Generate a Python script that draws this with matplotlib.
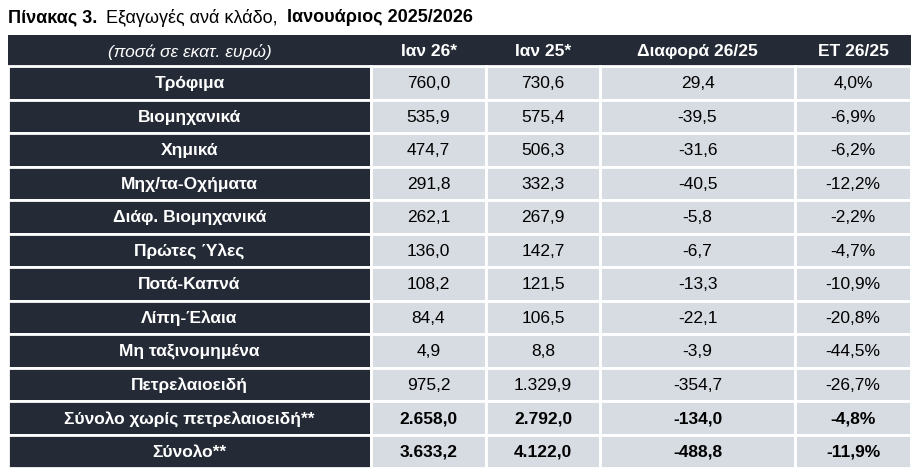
import matplotlib.pyplot as plt
from matplotlib.patches import Rectangle

categories = ["Τρόφιμα", "Βιομηχανικά", "Χημικά", "Μηχ/τα-Οχήματα", "Διάφ. Βιομηχανικά",
              "Πρώτες Ύλες", "Ποτά-Καπνά", "Λίπη-Έλαια", "Μη ταξινομημένα", "Πετρελαιοειδή",
              "Σύνολο χωρίς πετρελαιοειδή**", "Σύνολο**"]
jan26 = ["760,0", "535,9", "474,7", "291,8", "262,1", "136,0", "108,2", "84,4", "4,9", "975,2",
         "2.658,0", "3.633,2"]
jan25 = ["730,6", "575,4", "506,3", "332,3", "267,9", "142,7", "121,5", "106,5", "8,8", "1.329,9",
         "2.792,0", "4.122,0"]
diff = ["29,4", "-39,5", "-31,6", "-40,5", "-5,8", "-6,7", "-13,3", "-22,1", "-3,9", "-354,7",
        "-134,0", "-488,8"]
yoy = ["4,0%", "-6,9%", "-6,2%", "-12,2%", "-2,2%", "-4,7%", "-10,9%", "-20,8%", "-44,5%", "-26,7%",
       "-4,8%", "-11,9%"]
headers = ["(ποσά σε εκατ. ευρώ)", "Ιαν 26*", "Ιαν 25*", "Διαφορά 26/25", "ΕΤ 26/25"]

plt.rcParams["font.family"] = ["Liberation Sans", "DejaVu Sans"]
W, H = 922, 477
fig = plt.figure(figsize=(W / 100, H / 100), dpi=100)
ax = fig.add_axes([0, 0, 1, 1])
ax.set_xlim(0, W)
ax.set_ylim(H, 0)
ax.axis("off")

dark = "#252b36"
light = "#d7dce3"
xs = [8, 371, 486, 600, 795, 911]
head_top, head_bot = 36, 67
row_h = 33.5
fs = 12.5

# title pieces placed one after another
fig.canvas.draw()
renderer = fig.canvas.get_renderer()
x = 8
for txt, wt in [("Πίνακας 3. ", "bold"), ("Εξαγωγές ανά κλάδο, ", "normal"),
                ("Ιανουάριος 2025/2026", "bold")]:
    t = ax.text(x, 18, txt, fontsize=13, fontweight=wt, va="center")
    bb = t.get_window_extent(renderer)
    x += bb.width + 4

ax.add_patch(Rectangle((xs[0], head_top), xs[-1] - xs[0], head_bot - head_top, color=dark, lw=0))
for j, h in enumerate(headers):
    cx = (xs[j] + xs[j + 1]) / 2
    ax.text(cx, (head_top + head_bot) / 2, h, color="white", fontsize=fs, ha="center", va="center",
            fontweight="normal" if j == 0 else "bold", fontstyle="italic" if j == 0 else "normal")

cols = [categories, jan26, jan25, diff, yoy]
for i in range(len(categories)):
    y0 = head_bot + i * row_h
    bold = i >= 10
    for j in range(5):
        x0, x1 = xs[j], xs[j + 1]
        ax.add_patch(Rectangle((x0, y0), x1 - x0, row_h, facecolor=dark if j == 0 else light,
                               edgecolor="white", lw=2))
        ax.text((x0 + x1) / 2, y0 + row_h / 2, cols[j][i], fontsize=fs,
                color="white" if j == 0 else "black", ha="center", va="center",
                fontweight="bold" if (j == 0 or bold) else "normal")

fig.savefig("out.png", dpi=100)
